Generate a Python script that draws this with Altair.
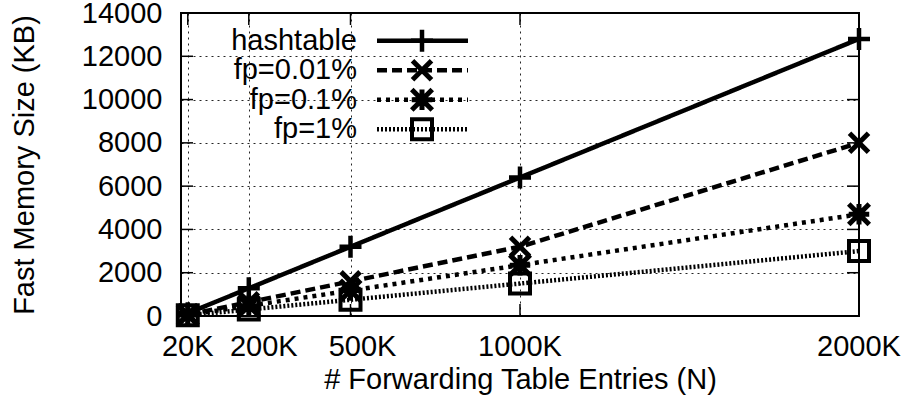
import altair as alt
import pandas as pd

# ---------------- data ----------------
entries_k = [20, 200, 500, 1000, 2000]
series_names = ["hashtable", "fp=0.01%", "fp=0.1%", "fp=1%"]
hashtable = [128, 1280, 3200, 6400, 12800]
fp_001 = [64, 640, 1600, 3200, 8000]
fp_01 = [47, 470, 1175, 2350, 4700]
fp_1 = [30, 300, 750, 1500, 3000]
x_ticks = [20, 200, 500, 1000, 2000]
x_tick_labels = ["20K", "200K", "500K", "1000K", "2000K"]
y_ticks = [0, 2000, 4000, 6000, 8000, 10000, 12000, 14000]
x_title = "# Forwarding Table Entries (N)"
y_title = "Fast Memory Size (KB)"

# ---------------- layout / style ----------------
W, H = 678, 303
FONT = "Liberation Sans"
FS = 29
TICK = 12
# horizontal nudges of the x tick labels, as in the reference
x_label_dx = [0, 15, 12, 0, 0]

rows = []
for name, vals in zip(series_names, [hashtable, fp_001, fp_01, fp_1]):
    for k, v in zip(entries_k, vals):
        rows.append({"series": name, "n": k, "kb": v})
df = pd.DataFrame(rows)

styles = {
    "hashtable": dict(dash=[1, 0], shape="M-1,0L1,0M0,-1L0,1", size=484, sw=4.5, lw=4.5),
    "fp=0.01%": dict(dash=[10, 5], shape="M-1,-1L1,1M-1,1L1,-1", size=361, sw=5, lw=4.5),
    "fp=0.1%": dict(dash=[4, 5], shape="M-1,0L1,0M0,-1L0,1M-1,-1L1,1M-1,1L1,-1", size=420, sw=5, lw=4.5),
    "fp=1%": dict(dash=[2, 2], shape="square", size=400, sw=4, lw=4.5),
}

x_scale = alt.Scale(domain=[0, 2000], nice=False, zero=False)
y_scale = alt.Scale(domain=[0, 14000], nice=False, zero=False)

common_axis = dict(
    grid=True, gridDash=[2, 4], gridColor="#000", gridWidth=1, gridOpacity=0.85,
    ticks=False, domain=False,
    labelFont=FONT, labelFontSize=FS, labelColor="#000", labelOverlap=False, labelFlush=False,
    titleFont=FONT, titleFontSize=FS, titleFontWeight="normal", titleColor="#000",
    titleBaseline="alphabetic",
)
x_axis = alt.Axis(values=x_ticks, labels=False, title=x_title, titleY=72, **common_axis)
y_axis = alt.Axis(values=y_ticks, format="d", title=y_title, labelPadding=19,
                  titleX=-148, titleAngle=270, **common_axis)


def X(field):
    return alt.X(f"{field}:Q", scale=x_scale, axis=x_axis)


def Y(field):
    return alt.Y(f"{field}:Q", scale=y_scale, axis=y_axis)


layers = []

# inward tick marks (gnuplot style) on all four sides
ytick_df = pd.DataFrame({"v": y_ticks})
xtick_df = pd.DataFrame({"v": x_ticks, "label": x_tick_labels})
layers.append(alt.Chart(ytick_df).mark_rule(color="#000", strokeWidth=1.5).encode(
    y=Y("v"), x=alt.value(0), x2=alt.value(TICK)))
layers.append(alt.Chart(ytick_df).mark_rule(color="#000", strokeWidth=1.5).encode(
    y=Y("v"), x=alt.value(W - TICK), x2=alt.value(W)))
layers.append(alt.Chart(xtick_df).mark_rule(color="#000", strokeWidth=1.5).encode(
    x=X("v"), y=alt.value(H), y2=alt.value(H - TICK)))
layers.append(alt.Chart(xtick_df).mark_rule(color="#000", strokeWidth=1.5).encode(
    x=X("v"), y=alt.value(0), y2=alt.value(TICK)))

# x tick labels
for v, lab, dx in zip(x_ticks, x_tick_labels, x_label_dx):
    layers.append(alt.Chart(xtick_df).transform_filter(alt.datum.v == v).mark_text(
        align="center", baseline="alphabetic", font=FONT, fontSize=FS, color="#000", dx=dx
    ).encode(x=X("v"), y=alt.value(H + 40), text="label:N"))

# series: line then points, drawn in order
for name in series_names:
    st = styles[name]
    base = alt.Chart(df).transform_filter(alt.datum.series == name)
    layers.append(base.mark_line(color="#000", strokeWidth=st["lw"], strokeDash=st["dash"]).encode(
        x=X("n"), y=Y("kb")))
    layers.append(base.mark_point(shape=st["shape"], size=st["size"], filled=False,
                                  color="#000", strokeWidth=st["sw"], opacity=1).encode(
        x=X("n"), y=Y("kb")))

# legend (top-left, labels right-aligned left of the samples)
leg_df = pd.DataFrame({"series": series_names})
for i, name in enumerate(series_names):
    st = styles[name]
    ry = 27.7 + 29.5 * i
    lb = alt.Chart(leg_df).transform_filter(alt.datum.series == name)
    layers.append(lb.mark_text(align="right", baseline="middle", font=FONT, fontSize=FS,
                               color="#000").encode(
        text="series:N", x=alt.value(176), y=alt.value(ry)))
    layers.append(lb.mark_rule(color="#000", strokeWidth=st["lw"], strokeDash=st["dash"]).encode(
        x=alt.value(196), x2=alt.value(287), y=alt.value(ry)))
    layers.append(lb.mark_point(shape=st["shape"], size=st["size"], filled=False,
                                color="#000", strokeWidth=st["sw"], opacity=1).encode(
        x=alt.value(241), y=alt.value(ry)))

chart = alt.layer(*layers).properties(
    width=W, height=H,
    padding={"left": 181, "top": 13, "right": 48, "bottom": 97},
    autosize=alt.AutoSizeParams(type="none"),
    background="#ffffff",
).configure_view(stroke="#000", strokeWidth=2)

chart.save("out.html", embed_options={"renderer": "svg", "actions": False})
